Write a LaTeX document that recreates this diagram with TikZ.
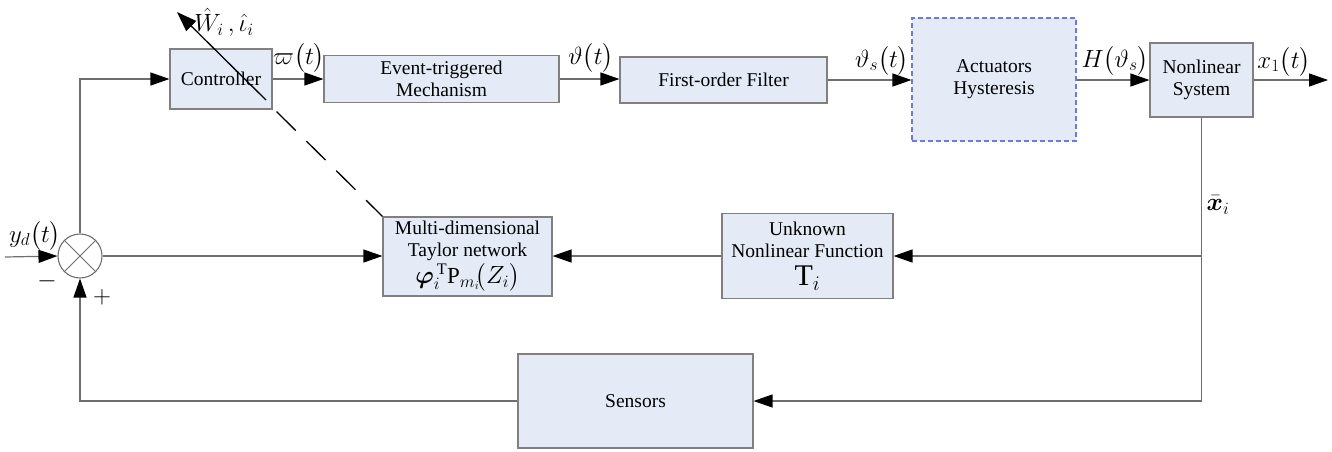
\documentclass[tikz,border=0pt]{standalone}
\usepackage{amsmath,amssymb,bm}
\usepackage{fontspec}
\setmainfont{LiberationSerif}[
  Extension=.ttf,
  UprightFont=*-Regular,
  BoldFont=*-Bold,
  ItalicFont=*-Italic,
  BoldItalicFont=*-BoldItalic]
\usetikzlibrary{arrows.meta,calc}

\definecolor{boxfill}{RGB}{228,235,247}
\definecolor{boxline}{RGB}{128,128,128}
\definecolor{wire}{RGB}{110,110,110}
\definecolor{hystline}{RGB}{110,120,225}

\tikzset{
  block/.style={draw=boxline, fill=boxfill, line width=1.1pt, inner sep=0pt,
    align=center, font=\fontsize{19.5}{22}\selectfont},
  wireline/.style={draw=wire, line width=1.2pt},
  sig/.style={wireline, -{Triangle[length=19pt,width=13pt,color=black]}},
  lab/.style={inner sep=0pt, font=\fontsize{24}{26}\selectfont},
}

\begin{document}
\begin{tikzpicture}[x=1pt,y=-1pt]
\useasboundingbox (0,0) rectangle (1332,451);

% forward path
\node[block, minimum width=102, minimum height=60] (ctrl) at (221,79) {Controller};
\node[block, minimum width=235, minimum height=47] (evt) at (441.5,79) {Event-triggered\\Mechanism};
\node[block, minimum width=207, minimum height=46] (filt) at (723.5,80) {First-order Filter};
\node[block, draw=hystline, dashed, dash pattern=on 5pt off 3pt, minimum width=164, minimum height=123] (act) at (994,79.5) {Actuators\\Hysteresis};
\node[block, minimum width=103, minimum height=74] (nls) at (1201.5,80) {Nonlinear\\System};

% approximation and feedback blocks
\node[block, minimum width=169, minimum height=79] (tay) at (467.5,256.5)
  {Multi-dimensional\\Taylor network\\[1pt]{\fontsize{23}{23}\selectfont$\bm{\varphi}_i^{\,\mathrm{T}}\mathrm{P}_{m_i}\!\big(Z_i\big)$}};
\node[block, minimum width=171, minimum height=85] (unk) at (807.5,256)
  {Unknown\\Nonlinear Function\\[6pt]{\fontsize{30}{30}\selectfont$\mathrm{T}_i$}};
\node[block, minimum width=235, minimum height=94] (sens) at (635.5,401) {Sensors};

% summing junction
\node[draw=wire, line width=1.1pt, circle, minimum size=44, inner sep=0pt] (sum) at (80,256) {};
\draw[wire, line width=0.9pt] (sum.north west) -- (sum.south east);
\draw[wire, line width=0.9pt] (sum.north east) -- (sum.south west);

\coordinate (ydin) at (5,257);
\coordinate (xout) at (1328,80);
\coordinate (wtail) at (266,100);
\coordinate (wtip) at (177,12);

% connectors
\draw[sig] (ydin) -- (sum.west);
\draw[sig] (sum.north) |- (ctrl.west);
\draw[sig] (ctrl.east) -- (evt.west);
\draw[sig] (evt.east) -- (filt.west |- evt.east);
\draw[sig] (filt.east) -- (act.west |- filt.east);
\draw[sig] (act.east |- nls.west) -- (nls.west);
\draw[sig] (nls.east) -- (xout);
\draw[sig] (nls.south) |- (sens.east);
\draw[sig] (nls.south |- unk.east) -- (unk.east);
\draw[sig] (unk.west) -- (tay.east |- unk.west);
\draw[sig] (sum.east) -- (tay.west |- sum.east);
\draw[sig] (sens.west) -| (sum.south);

% adaptive law output and tuning link
\draw[black, line width=1.3pt, -{Triangle[length=20pt,width=14pt]}] (wtail) -- (wtip);
\draw[black, line width=1.3pt, dash pattern=on 27pt off 15pt] ($(ctrl.south east)+(4,2)$) -- (tay.north west);

% signal labels
\node[lab] (lw) at (224,22) {$\hat{W}_i\,,\hat{\iota}_i$};
\node[lab] (lvarpi) at (299,58) {$\varpi\bigl(t\bigr)$};
\node[lab] (ltheta) at (591,58) {$\vartheta\bigl(t\bigr)$};
\node[lab] (lthetas) at (882,61) {$\vartheta_s\bigl(t\bigr)$};
\node[lab] (lH) at (1115,61) {$H\bigl(\vartheta_s\bigr)$};
\node[lab] (lx) at (1284,62) {$x_1\bigl(t\bigr)$};
\node[lab] (lxbar) at (1218,205) {$\bar{\bm{x}}_i$};
\node[lab] (lyd) at (35,236) {$y_d\bigl(t\bigr)$};
\node[lab] (lminus) at (47,281) {$-$};
\node[lab] (lplus) at (102,297) {$+$};
\end{tikzpicture}
\end{document}
